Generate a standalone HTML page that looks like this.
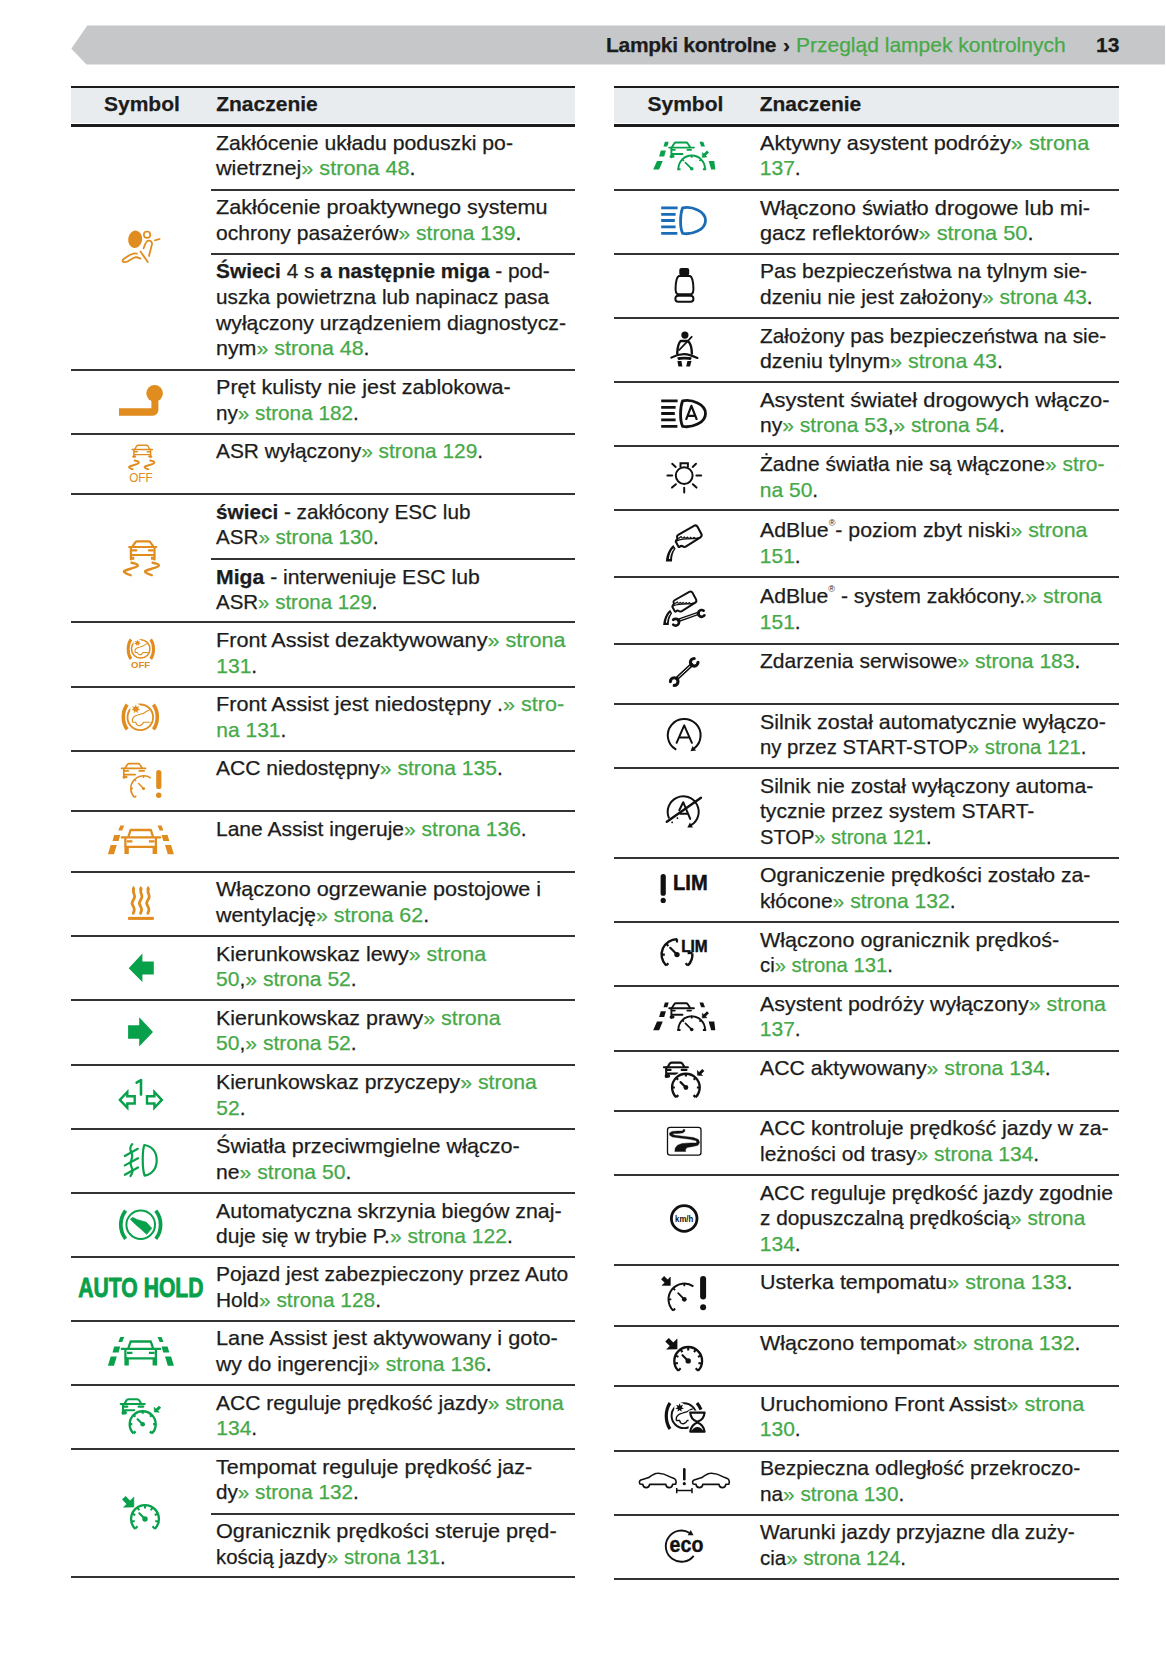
<!DOCTYPE html>
<html><head><meta charset="utf-8"><style>
html,body{margin:0;padding:0;background:#fff;}
body{width:1166px;height:1654px;position:relative;overflow:hidden;font-family:"Liberation Sans",sans-serif;}
.t{position:absolute;font-size:21px;line-height:25.65px;color:#1c1c1c;white-space:nowrap;-webkit-text-stroke:0.25px currentColor;}
.b{font-weight:bold;}
b{font-weight:bold;}
.g{color:#46a948;}
.hl{position:absolute;background:#1c1c1c;}
.hbg{position:absolute;background:#e9ecef;}
.ln{position:absolute;height:2px;background:#333;}
.ic{position:absolute;}
.sl{display:inline-block;transform-origin:0 50%;}
.ic svg{position:absolute;left:0;top:0;overflow:visible;}
sup{font-size:9px;line-height:0;vertical-align:baseline;position:relative;top:-11px;-webkit-text-stroke:0;}
</style></head><body>
<svg class="bar" width="1166" height="70" style="position:absolute;left:0;top:0"><polygon points="87.3,25.5 1165,25.5 1165,64.6 86.6,64.6 71.3,48.8" fill="#c6c7c9"/></svg>
<div class="t b" style="left:606px;top:31.7px;letter-spacing:-0.3px">Lampki kontrolne</div>
<div class="t b" style="left:783px;top:31.7px">›</div>
<div class="t g" style="left:796px;top:31.7px">Przegląd lampek kontrolnych</div>
<div class="t b" style="left:1096px;top:31.7px">13</div>
<div class="hl" style="left:70.5px;top:85.5px;width:504.5px;height:2px"></div>
<div class="hbg" style="left:70.5px;top:87.5px;width:504.5px;height:35px"></div>
<div class="hl" style="left:70.5px;top:124px;width:504.5px;height:2.5px"></div>
<div class="t b" style="left:104.0px;top:90.8px">Symbol</div>
<div class="t b" style="left:216.2px;top:90.8px">Znaczenie</div>
<div class="ln" style="left:70.5px;top:368.9px;width:504.5px"></div>
<div class="ic" style="left:70.5px;top:125.2px;width:140.5px;height:244.7px"></div>
<div class="t" style="left:216.3px;top:129.7px;line-height:25.65px"><span class="sl" style="transform:scaleX(1.0095)">Zakłócenie układu poduszki po-</span><br><span class="sl" style="transform:scaleX(1.0296)">wietrznej<span class="g">» strona 48</span>.</span></div>
<div class="ln" style="left:211.0px;top:188.7px;width:364.0px"></div>
<div class="t" style="left:216.3px;top:194.2px;line-height:25.65px"><span class="sl" style="transform:scaleX(1.0292)">Zakłócenie proaktywnego systemu</span><br><span class="sl" style="transform:scaleX(1.002)">ochrony pasażerów<span class="g">» strona 139</span>.</span></div>
<div class="ln" style="left:211.0px;top:252.7px;width:364.0px"></div>
<div class="t" style="left:216.3px;top:258.2px;line-height:25.65px"><span class="sl" style="transform:scaleX(0.9929)"><b>Świeci</b> 4 s <b>a następnie miga</b> - pod-</span><br><span class="sl" style="transform:scaleX(0.987)">uszka powietrzna lub napinacz pasa</span><br><span class="sl" style="transform:scaleX(1.0095)">wyłączony urządzeniem diagnostycz-</span><br><span class="sl" style="transform:scaleX(1.0195)">nym<span class="g">» strona 48</span>.</span></div>
<div class="ln" style="left:70.5px;top:432.9px;width:504.5px"></div>
<div class="ic" style="left:70.5px;top:369.9px;width:140.5px;height:64.0px"></div>
<div class="t" style="left:216.3px;top:374.4px;line-height:25.65px"><span class="sl" style="transform:scaleX(1.0265)">Pręt kulisty nie jest zablokowa-</span><br><span class="sl" style="transform:scaleX(0.9854)">ny<span class="g">» strona 182</span>.</span></div>
<div class="ln" style="left:70.5px;top:493.3px;width:504.5px"></div>
<div class="ic" style="left:70.5px;top:433.9px;width:140.5px;height:60.4px"></div>
<div class="t" style="left:216.3px;top:438.4px;line-height:25.65px"><span class="sl" style="transform:scaleX(0.9948)">ASR wyłączony<span class="g">» strona 129</span>.</span></div>
<div class="ln" style="left:70.5px;top:621.4px;width:504.5px"></div>
<div class="ic" style="left:70.5px;top:494.3px;width:140.5px;height:128.1px"></div>
<div class="t" style="left:216.3px;top:498.8px;line-height:25.65px"><span class="sl" style="transform:scaleX(0.9864)"><b>świeci</b> - zakłócony ESC lub</span><br><span class="sl" style="transform:scaleX(0.9812)">ASR<span class="g">» strona 130</span>.</span></div>
<div class="ln" style="left:211.0px;top:558.0px;width:364.0px"></div>
<div class="t" style="left:216.3px;top:563.5px;line-height:25.65px"><span class="sl" style="transform:scaleX(1.0092)"><b>Miga</b> - interweniuje ESC lub</span><br><span class="sl" style="transform:scaleX(0.9745)">ASR<span class="g">» strona 129</span>.</span></div>
<div class="ln" style="left:70.5px;top:685.7px;width:504.5px"></div>
<div class="ic" style="left:70.5px;top:622.4px;width:140.5px;height:64.3px"></div>
<div class="t" style="left:216.3px;top:626.9px;line-height:25.65px"><span class="sl" style="transform:scaleX(1.0291)">Front Assist dezaktywowany<span class="g">» strona</span></span><br><span class="sl" style="transform:scaleX(1.0)"><span class="g">131</span>.</span></div>
<div class="ln" style="left:70.5px;top:749.6px;width:504.5px"></div>
<div class="ic" style="left:70.5px;top:686.7px;width:140.5px;height:63.9px"></div>
<div class="t" style="left:216.3px;top:691.2px;line-height:25.65px"><span class="sl" style="transform:scaleX(1.0287)">Front Assist jest niedostępny .<span class="g">» stro-</span></span><br><span class="sl" style="transform:scaleX(1.0)"><span class="g">na 131</span>.</span></div>
<div class="ln" style="left:70.5px;top:810.0px;width:504.5px"></div>
<div class="ic" style="left:70.5px;top:750.6px;width:140.5px;height:60.4px"></div>
<div class="t" style="left:216.3px;top:755.1px;line-height:25.65px"><span class="sl" style="transform:scaleX(1.0025)">ACC niedostępny<span class="g">» strona 135</span>.</span></div>
<div class="ln" style="left:70.5px;top:870.8px;width:504.5px"></div>
<div class="ic" style="left:70.5px;top:811.0px;width:140.5px;height:60.8px"></div>
<div class="t" style="left:216.3px;top:815.5px;line-height:25.65px"><span class="sl" style="transform:scaleX(1.0003)">Lane Assist ingeruje<span class="g">» strona 136</span>.</span></div>
<div class="ln" style="left:70.5px;top:935.2px;width:504.5px"></div>
<div class="ic" style="left:70.5px;top:871.8px;width:140.5px;height:64.4px"></div>
<div class="t" style="left:216.3px;top:876.3px;line-height:25.65px"><span class="sl" style="transform:scaleX(1.0276)">Włączono ogrzewanie postojowe i</span><br><span class="sl" style="transform:scaleX(1.0197)">wentylację<span class="g">» strona 62</span>.</span></div>
<div class="ln" style="left:70.5px;top:999.2px;width:504.5px"></div>
<div class="ic" style="left:70.5px;top:936.2px;width:140.5px;height:64.0px"></div>
<div class="t" style="left:216.3px;top:940.7px;line-height:25.65px"><span class="sl" style="transform:scaleX(1.0193)">Kierunkowskaz lewy<span class="g">» strona</span></span><br><span class="sl" style="transform:scaleX(1.0043)"><span class="g">50</span>,<span class="g">» strona 52</span>.</span></div>
<div class="ln" style="left:70.5px;top:1063.8px;width:504.5px"></div>
<div class="ic" style="left:70.5px;top:1000.2px;width:140.5px;height:64.6px"></div>
<div class="t" style="left:216.3px;top:1004.7px;line-height:25.65px"><span class="sl" style="transform:scaleX(1.0201)">Kierunkowskaz prawy<span class="g">» strona</span></span><br><span class="sl" style="transform:scaleX(1.0043)"><span class="g">50</span>,<span class="g">» strona 52</span>.</span></div>
<div class="ln" style="left:70.5px;top:1127.9px;width:504.5px"></div>
<div class="ic" style="left:70.5px;top:1064.8px;width:140.5px;height:64.1px"></div>
<div class="t" style="left:216.3px;top:1069.3px;line-height:25.65px"><span class="sl" style="transform:scaleX(1.0107)">Kierunkowskaz przyczepy<span class="g">» strona</span></span><br><span class="sl" style="transform:scaleX(1.0)"><span class="g">52</span>.</span></div>
<div class="ln" style="left:70.5px;top:1192.0px;width:504.5px"></div>
<div class="ic" style="left:70.5px;top:1128.9px;width:140.5px;height:64.1px"></div>
<div class="t" style="left:216.3px;top:1133.4px;line-height:25.65px"><span class="sl" style="transform:scaleX(1.0288)">Światła przeciwmgielne włączo-</span><br><span class="sl" style="transform:scaleX(1.0083)">ne<span class="g">» strona 50</span>.</span></div>
<div class="ln" style="left:70.5px;top:1255.9px;width:504.5px"></div>
<div class="ic" style="left:70.5px;top:1193.0px;width:140.5px;height:63.9px"></div>
<div class="t" style="left:216.3px;top:1197.5px;line-height:25.65px"><span class="sl" style="transform:scaleX(1.0174)">Automatyczna skrzynia biegów znaj-</span><br><span class="sl" style="transform:scaleX(1.0024)">duje się w trybie P.<span class="g">» strona 122</span>.</span></div>
<div class="ln" style="left:70.5px;top:1319.7px;width:504.5px"></div>
<div class="ic" style="left:70.5px;top:1256.9px;width:140.5px;height:63.8px"></div>
<div class="t" style="left:216.3px;top:1261.4px;line-height:25.65px"><span class="sl" style="transform:scaleX(0.9989)">Pojazd jest zabezpieczony przez Auto</span><br><span class="sl" style="transform:scaleX(0.9951)">Hold<span class="g">» strona 128</span>.</span></div>
<div class="ln" style="left:70.5px;top:1384.0px;width:504.5px"></div>
<div class="ic" style="left:70.5px;top:1320.7px;width:140.5px;height:64.3px"></div>
<div class="t" style="left:216.3px;top:1325.2px;line-height:25.65px"><span class="sl" style="transform:scaleX(1.0346)">Lane Assist jest aktywowany i goto-</span><br><span class="sl" style="transform:scaleX(1.0092)">wy do ingerencji<span class="g">» strona 136</span>.</span></div>
<div class="ln" style="left:70.5px;top:1448.2px;width:504.5px"></div>
<div class="ic" style="left:70.5px;top:1385.0px;width:140.5px;height:64.2px"></div>
<div class="t" style="left:216.3px;top:1389.5px;line-height:25.65px"><span class="sl" style="transform:scaleX(1.0032)">ACC reguluje prędkość jazdy<span class="g">» strona</span></span><br><span class="sl" style="transform:scaleX(1.0)"><span class="g">134</span>.</span></div>
<div class="ln" style="left:70.5px;top:1576.3px;width:504.5px"></div>
<div class="ic" style="left:70.5px;top:1449.2px;width:140.5px;height:128.1px"></div>
<div class="t" style="left:216.3px;top:1453.7px;line-height:25.65px"><span class="sl" style="transform:scaleX(1.022)">Tempomat reguluje prędkość jaz-</span><br><span class="sl" style="transform:scaleX(0.9854)">dy<span class="g">» strona 132</span>.</span></div>
<div class="ln" style="left:211.0px;top:1512.7px;width:364.0px"></div>
<div class="t" style="left:216.3px;top:1518.2px;line-height:25.65px"><span class="sl" style="transform:scaleX(1.0312)">Ogranicznik prędkości steruje pręd-</span><br><span class="sl" style="transform:scaleX(0.9695)">kością jazdy<span class="g">» strona 131</span>.</span></div>
<div class="hl" style="left:614px;top:85.5px;width:504.5px;height:2px"></div>
<div class="hbg" style="left:614px;top:87.5px;width:504.5px;height:35px"></div>
<div class="hl" style="left:614px;top:124px;width:504.5px;height:2.5px"></div>
<div class="t b" style="left:647.5px;top:90.8px">Symbol</div>
<div class="t b" style="left:759.7px;top:90.8px">Znaczenie</div>
<div class="ln" style="left:614px;top:189.0px;width:504.5px"></div>
<div class="ic" style="left:614px;top:125.2px;width:140.5px;height:64.8px"></div>
<div class="t" style="left:759.8px;top:129.7px;line-height:25.65px"><span class="sl" style="transform:scaleX(1.0332)">Aktywny asystent podróży<span class="g">» strona</span></span><br><span class="sl" style="transform:scaleX(1.0)"><span class="g">137</span>.</span></div>
<div class="ln" style="left:614px;top:252.6px;width:504.5px"></div>
<div class="ic" style="left:614px;top:190.0px;width:140.5px;height:63.6px"></div>
<div class="t" style="left:759.8px;top:194.5px;line-height:25.65px"><span class="sl" style="transform:scaleX(1.0397)">Włączono światło drogowe lub mi-</span><br><span class="sl" style="transform:scaleX(1.0366)">gacz reflektorów<span class="g">» strona 50</span>.</span></div>
<div class="ln" style="left:614px;top:317.2px;width:504.5px"></div>
<div class="ic" style="left:614px;top:253.6px;width:140.5px;height:64.6px"></div>
<div class="t" style="left:759.8px;top:258.1px;line-height:25.65px"><span class="sl" style="transform:scaleX(1.0009)">Pas bezpieczeństwa na tylnym sie-</span><br><span class="sl" style="transform:scaleX(0.9961)">dzeniu nie jest założony<span class="g">» strona 43</span>.</span></div>
<div class="ln" style="left:614px;top:381.3px;width:504.5px"></div>
<div class="ic" style="left:614px;top:318.2px;width:140.5px;height:64.1px"></div>
<div class="t" style="left:759.8px;top:322.7px;line-height:25.65px"><span class="sl" style="transform:scaleX(0.992)">Założony pas bezpieczeństwa na sie-</span><br><span class="sl" style="transform:scaleX(1.0147)">dzeniu tylnym<span class="g">» strona 43</span>.</span></div>
<div class="ln" style="left:614px;top:445.4px;width:504.5px"></div>
<div class="ic" style="left:614px;top:382.3px;width:140.5px;height:64.1px"></div>
<div class="t" style="left:759.8px;top:386.8px;line-height:25.65px"><span class="sl" style="transform:scaleX(1.0437)">Asystent świateł drogowych włączo-</span><br><span class="sl" style="transform:scaleX(1.0029)">ny<span class="g">» strona 53</span>,<span class="g">» strona 54</span>.</span></div>
<div class="ln" style="left:614px;top:509.3px;width:504.5px"></div>
<div class="ic" style="left:614px;top:446.4px;width:140.5px;height:63.9px"></div>
<div class="t" style="left:759.8px;top:450.9px;line-height:25.65px"><span class="sl" style="transform:scaleX(1.0003)">Żadne światła nie są włączone<span class="g">» stro-</span></span><br><span class="sl" style="transform:scaleX(1.0)"><span class="g">na 50</span>.</span></div>
<div class="ln" style="left:614px;top:575.8px;width:504.5px"></div>
<div class="ic" style="left:614px;top:510.3px;width:140.5px;height:66.5px"></div>
<div class="t" style="left:759.8px;top:516.5px;line-height:26.1px"><span class="sl" style="transform:scaleX(1.0136)">AdBlue<sup>®</sup>- poziom zbyt niski<span class="g">» strona</span></span><br><span class="sl" style="transform:scaleX(1.0)"><span class="g">151</span>.</span></div>
<div class="ln" style="left:614px;top:642.8px;width:504.5px"></div>
<div class="ic" style="left:614px;top:576.8px;width:140.5px;height:67.0px"></div>
<div class="t" style="left:759.8px;top:583.0px;line-height:26.1px"><span class="sl" style="transform:scaleX(1.0085)">AdBlue<sup>®</sup> - system zakłócony.<span class="g">» strona</span></span><br><span class="sl" style="transform:scaleX(1.0)"><span class="g">151</span>.</span></div>
<div class="ln" style="left:614px;top:703.3px;width:504.5px"></div>
<div class="ic" style="left:614px;top:643.8px;width:140.5px;height:60.5px"></div>
<div class="t" style="left:759.8px;top:648.3px;line-height:25.65px"><span class="sl" style="transform:scaleX(1.0016)">Zdarzenia serwisowe<span class="g">» strona 183</span>.</span></div>
<div class="ln" style="left:614px;top:767.3px;width:504.5px"></div>
<div class="ic" style="left:614px;top:704.3px;width:140.5px;height:64.0px"></div>
<div class="t" style="left:759.8px;top:708.8px;line-height:25.65px"><span class="sl" style="transform:scaleX(1.0183)">Silnik został automatycznie wyłączo-</span><br><span class="sl" style="transform:scaleX(0.9679)">ny przez START-STOP<span class="g">» strona 121</span>.</span></div>
<div class="ln" style="left:614px;top:856.8px;width:504.5px"></div>
<div class="ic" style="left:614px;top:768.3px;width:140.5px;height:89.5px"></div>
<div class="t" style="left:759.8px;top:772.8px;line-height:25.65px"><span class="sl" style="transform:scaleX(1.0091)">Silnik nie został wyłączony automa-</span><br><span class="sl" style="transform:scaleX(1.0033)">tycznie przez system START-</span><br><span class="sl" style="transform:scaleX(0.9562)">STOP<span class="g">» strona 121</span>.</span></div>
<div class="ln" style="left:614px;top:921.2px;width:504.5px"></div>
<div class="ic" style="left:614px;top:857.8px;width:140.5px;height:64.4px"></div>
<div class="t" style="left:759.8px;top:862.3px;line-height:25.65px"><span class="sl" style="transform:scaleX(1.011)">Ograniczenie prędkości zostało za-</span><br><span class="sl" style="transform:scaleX(1.0031)">kłócone<span class="g">» strona 132</span>.</span></div>
<div class="ln" style="left:614px;top:985.3px;width:504.5px"></div>
<div class="ic" style="left:614px;top:922.2px;width:140.5px;height:64.1px"></div>
<div class="t" style="left:759.8px;top:926.7px;line-height:25.65px"><span class="sl" style="transform:scaleX(1.0254)">Włączono ogranicznik prędkoś-</span><br><span class="sl" style="transform:scaleX(0.9648)">ci<span class="g">» strona 131</span>.</span></div>
<div class="ln" style="left:614px;top:1049.9px;width:504.5px"></div>
<div class="ic" style="left:614px;top:986.3px;width:140.5px;height:64.6px"></div>
<div class="t" style="left:759.8px;top:990.8px;line-height:25.65px"><span class="sl" style="transform:scaleX(1.0185)">Asystent podróży wyłączony<span class="g">» strona</span></span><br><span class="sl" style="transform:scaleX(1.0)"><span class="g">137</span>.</span></div>
<div class="ln" style="left:614px;top:1109.9px;width:504.5px"></div>
<div class="ic" style="left:614px;top:1050.9px;width:140.5px;height:60.0px"></div>
<div class="t" style="left:759.8px;top:1055.4px;line-height:25.65px"><span class="sl" style="transform:scaleX(1.0122)">ACC aktywowany<span class="g">» strona 134</span>.</span></div>
<div class="ln" style="left:614px;top:1174.0px;width:504.5px"></div>
<div class="ic" style="left:614px;top:1110.9px;width:140.5px;height:64.1px"></div>
<div class="t" style="left:759.8px;top:1115.4px;line-height:25.65px"><span class="sl" style="transform:scaleX(1.0163)">ACC kontroluje prędkość jazdy w za-</span><br><span class="sl" style="transform:scaleX(1.0007)">leżności od trasy<span class="g">» strona 134</span>.</span></div>
<div class="ln" style="left:614px;top:1263.7px;width:504.5px"></div>
<div class="ic" style="left:614px;top:1175.0px;width:140.5px;height:89.7px"></div>
<div class="t" style="left:759.8px;top:1179.5px;line-height:25.65px"><span class="sl" style="transform:scaleX(1.0083)">ACC reguluje prędkość jazdy zgodnie</span><br><span class="sl" style="transform:scaleX(0.9915)">z dopuszczalną prędkością<span class="g">» strona</span></span><br><span class="sl" style="transform:scaleX(1.0)"><span class="g">134</span>.</span></div>
<div class="ln" style="left:614px;top:1324.7px;width:504.5px"></div>
<div class="ic" style="left:614px;top:1264.7px;width:140.5px;height:61.0px"></div>
<div class="t" style="left:759.8px;top:1269.2px;line-height:25.65px"><span class="sl" style="transform:scaleX(1.022)">Usterka tempomatu<span class="g">» strona 133</span>.</span></div>
<div class="ln" style="left:614px;top:1385.1px;width:504.5px"></div>
<div class="ic" style="left:614px;top:1325.7px;width:140.5px;height:60.4px"></div>
<div class="t" style="left:759.8px;top:1330.2px;line-height:25.65px"><span class="sl" style="transform:scaleX(1.0208)">Włączono tempomat<span class="g">» strona 132</span>.</span></div>
<div class="ln" style="left:614px;top:1449.5px;width:504.5px"></div>
<div class="ic" style="left:614px;top:1386.1px;width:140.5px;height:64.4px"></div>
<div class="t" style="left:759.8px;top:1390.6px;line-height:25.65px"><span class="sl" style="transform:scaleX(1.0253)">Uruchomiono Front Assist<span class="g">» strona</span></span><br><span class="sl" style="transform:scaleX(1.0)"><span class="g">130</span>.</span></div>
<div class="ln" style="left:614px;top:1513.6px;width:504.5px"></div>
<div class="ic" style="left:614px;top:1450.5px;width:140.5px;height:64.1px"></div>
<div class="t" style="left:759.8px;top:1455.0px;line-height:25.65px"><span class="sl" style="transform:scaleX(1.005)">Bezpieczna odległość przekroczo-</span><br><span class="sl" style="transform:scaleX(0.9882)">na<span class="g">» strona 130</span>.</span></div>
<div class="ln" style="left:614px;top:1577.6px;width:504.5px"></div>
<div class="ic" style="left:614px;top:1514.6px;width:140.5px;height:64.0px"></div>
<div class="t" style="left:759.8px;top:1519.1px;line-height:25.65px"><span class="sl" style="transform:scaleX(0.9937)">Warunki jazdy przyjazne dla zuży-</span><br><span class="sl" style="transform:scaleX(0.9771)">cia<span class="g">» strona 124</span>.</span></div>
<svg width="1166" height="1654" style="position:absolute;left:0;top:0"><g fill="none" stroke="#e08c1e" stroke-width="1.8" stroke-linecap="round" stroke-linejoin="round">
<ellipse cx="135.2" cy="239.3" rx="7.0" ry="8.7" transform="rotate(8 135.2 239.3)" fill="#e08c1e" stroke="none"/>
<circle cx="147.05" cy="234.7" r="3.2" stroke-width="1.7"/>
<path d="M154.9,240.3 L159.6,239.0"/>
<path d="M143.6,248.3 C144.8,244.5 146.5,240.8 148.6,240.7 C151.2,240.6 152.3,242.2 151.9,244.5 L149.0,256.0"/>
<path d="M140.5,251.5 L147.8,262.0"/>
<path d="M136.8,253.6 C133.5,252.5 127,256.5 124.0,258.8 C121.6,260.6 122.6,262.6 125.4,262.1 C129,261.5 132.8,257.6 135.0,257.3 C137,257.1 139,257.9 140.4,258.6"/>
</g>
<path d="M119,408.2 H151.4 V396 H158.4 V410 A5.7,5.7 0 0 1 152.7,415.7 H119 Z" fill="#e08c1e"/>
<circle cx="154.6" cy="393.3" r="8.3" fill="#e08c1e"/>
<g fill="none" stroke="#e08c1e" stroke-width="1.4" stroke-linecap="round" stroke-linejoin="round">
<path d="M134.9,449.2 L136.6,446.0 C137,445.4 137.6,445.2 138.4,445.2 H146.1 C146.9,445.2 147.5,445.4 147.9,446.0 L149.6,449.2"/>
<path d="M132.0,449.5 H152.4"/>
<path d="M133.9,449.5 V457.3 M150.6,449.5 V457.3 M133.9,454.6 H150.6"/>
<path d="M134.3,451.8 H137.3 M147.3,451.8 H150.3"/>
<path d="M133.2,456.5 H135.2 M149.3,456.5 H151.3" stroke-width="2.2"/>
<path d="M134.7,460.6 C136.8,461 138.6,461.8 138.8,462.6 C139,463.6 136,464.5 132.5,465.5 C130,466.2 128.8,466.8 129.1,467.4 C129.5,468.2 131,468.8 132.6,469.2" stroke-width="2"/>
<path d="M150.2,460.6 C152.3,461 154.1,461.8 154.3,462.6 C154.5,463.6 151.5,464.5 148.0,465.5 C145.5,466.2 144.3,466.8 144.6,467.4 C145,468.2 146.5,468.8 148.1,469.2" stroke-width="2"/>
</g>
<text x="140.9" y="481.6" font-family="Liberation Sans" font-size="13" fill="#e08c1e" text-anchor="middle" textLength="23.5" lengthAdjust="spacingAndGlyphs">OFF</text>
<g fill="none" stroke="#e08c1e" stroke-width="2.2" stroke-linecap="round" stroke-linejoin="round">
<path d="M132.6,546.2 L135.6,542.0 C136,541.5 136.6,541.3 137.4,541.3 H148.4 C149.2,541.3 149.8,541.5 150.2,542.0 L153.0,546.2"/>
<path d="M129.2,547.0 H156.2"/>
<path d="M130.9,547.4 V559.4 M154.5,547.4 V559.4 M130.9,555.0 H154.5"/>
<path d="M132.4,550.3 H136.3 M148.9,550.3 H152.8"/>
<path d="M130.3,558.2 H134.3 M151.0,558.2 H155.0" stroke-width="2.9" stroke-linecap="butt"/>
</g>
<g fill="none" stroke="#e08c1e" stroke-width="2.5" stroke-linecap="round" stroke-linejoin="round">
<path d="M131.6,562.7 C134.5,563.2 137.5,564.2 137.8,565.3 C138,566.5 134,567.7 129,569.2 C125.5,570.3 123.6,571 124.0,571.8 C124.6,573 127.8,574.3 130.6,575.1"/>
<path d="M152.7,562.7 C155.6,563.2 158.6,564.2 158.9,565.3 C159.1,566.5 155.1,567.7 150.1,569.2 C146.6,570.3 144.7,571 145.1,571.8 C145.7,573 148.9,574.3 151.7,575.1"/>
</g>
<g transform="translate(140.7,648.9) scale(0.72) translate(-140.3,-717.3)"><circle cx="140.3" cy="717.3" r="12.8" fill="none" stroke="#e08c1e" stroke-width="2.1"/><path d="M149.4,710.2 C147,710.4 145.5,712.2 143.5,713.2 C141,714.3 137,714.5 134.7,716.3 C132.8,717.8 131.9,720.5 132.6,722.3 H135.8 C136.3,724.5 138,725.6 139.6,725.6 C141.5,725.5 142.8,723.9 143.6,722.3 H150.4" fill="none" stroke="#e08c1e" stroke-width="1.4" stroke-linejoin="round"/><circle cx="135.8" cy="709.0" r="5.6" fill="#fff"/><polygon points="135.8,704.4 136.8,706.93 139.4,706.13 138.04,708.49 140.28,710.02 137.6,710.43 137.8,713.14 135.8,711.3 133.8,713.14 134,710.43 131.32,710.02 133.56,708.49 132.2,706.13 134.8,706.93" fill="#e08c1e"/></g>
<path d="M131.0,639.4 C127.2,644.5 127.2,653.8 131.0,659.0" fill="none" stroke="#e08c1e" stroke-width="3.0"/>
<path d="M150.7,639.4 C154.5,644.5 154.5,653.8 150.7,659.0" fill="none" stroke="#e08c1e" stroke-width="3.0"/>
<text x="140.6" y="668.2" font-family="Liberation Sans" font-weight="bold" font-size="9.6" fill="#e08c1e" text-anchor="middle" textLength="19" lengthAdjust="spacingAndGlyphs">OFF</text>
<circle cx="140.3" cy="717.3" r="12.8" fill="none" stroke="#e08c1e" stroke-width="1.8"/><path d="M149.4,710.2 C147,710.4 145.5,712.2 143.5,713.2 C141,714.3 137,714.5 134.7,716.3 C132.8,717.8 131.9,720.5 132.6,722.3 H135.8 C136.3,724.5 138,725.6 139.6,725.6 C141.5,725.5 142.8,723.9 143.6,722.3 H150.4" fill="none" stroke="#e08c1e" stroke-width="1.1" stroke-linejoin="round"/><circle cx="135.8" cy="709.0" r="5.6" fill="#fff"/><polygon points="135.8,704.4 136.8,706.93 139.4,706.13 138.04,708.49 140.28,710.02 137.6,710.43 137.8,713.14 135.8,711.3 133.8,713.14 134,710.43 131.32,710.02 133.56,708.49 132.2,706.13 134.8,706.93" fill="#e08c1e"/><path d="M127.2,704.6 C122.0,711.5 122.0,722.5 127.2,729.4" fill="none" stroke="#e08c1e" stroke-width="3.6"/>
<path d="M153.4,704.6 C158.6,711.5 158.6,722.5 153.4,729.4" fill="none" stroke="#e08c1e" stroke-width="3.6"/>
<g transform="translate(143.5,788.5)"><g fill="none" stroke="#e08c1e" stroke-width="1.7" stroke-linecap="round" stroke-linejoin="round">
<path d="M-18.2,-20.5 L-16.2,-23.9 C-15.8,-24.6 -15.2,-24.9 -14.3,-24.9 H-5.5 C-4.6,-24.9 -4.0,-24.6 -3.6,-23.9 L-1.4,-20.5"/>
<path d="M-22.0,-20.2 H2.0"/>
<path d="M-19.7,-20.0 V-10.6 M-19.7,-13.9 H-8.3"/>
<path d="M-19.2,-17.6 H-15.3 M-4.2,-17.6 H0.6"/>
<path d="M-19.6,-11.5 H-17.4" stroke-width="2.72"/>
</g><path d="M-8.98,8.98 A12.7,12.7 0 0 1 7.28,-10.4" stroke="#fff" stroke-width="4" fill="none"/><path d="M-8.98,8.98 A12.7,12.7 0 0 1 7.28,-10.4" stroke="#e08c1e" stroke-width="1.6" fill="none"/><path d="M-12.7,0 L-10.5,0 M-8.98,-8.98 L-7.42,-7.42 M-0,-12.7 L-0,-10.5" stroke="#e08c1e" stroke-width="1.4400000000000002" fill="none"/><path d="M0,0 L-4.94,-4.94" stroke="#e08c1e" stroke-width="1.4400000000000002" stroke-linecap="round"/><circle cx="0" cy="0" r="1.6" fill="#e08c1e"/><path d="M-8.98,8.98 L-7.28,7.28 M-8.98,8.98 L-7.28,7.28" stroke="#e08c1e" stroke-width="1.6" fill="none" stroke-linecap="butt"/></g>
<path d="M158.8,772.5 V786.5" stroke="#e08c1e" stroke-width="5.2" stroke-linecap="round"/><circle cx="158.7" cy="795.2" r="2.7" fill="#e08c1e"/>
<path d="M120.3,825.4 H124.2 L122.2,830.4 H118.3 Z M114.2,835.0 H120.2 L118.6,841.0 H112.5 Z M110.7,845.0 H116.8 L114.0,854.3 H107.9 Z" fill="#e08c1e"/>
<path d="M161.5,825.4 H157.6 L159.6,830.4 H163.5 Z M167.6,835.0 H161.6 L163.2,841.0 H169.3 Z M171.1,845.0 H165.0 L167.8,854.3 H173.9 Z" fill="#e08c1e"/>
<g fill="none" stroke="#e08c1e" stroke-width="2.3" stroke-linecap="butt" stroke-linejoin="round">
<path d="M128.4,836.6 L130.6,830.0 H150.8 L153.0,836.6"/>
<path d="M121.8,837.4 H160.2" stroke-linecap="round"/>
<path d="M125.4,837.4 V847 M155.9,837.4 V847 M125.4,846.9 H155.9"/>
<path d="M127.0,841.4 H132.4 M148.9,841.4 H154.6"/>
</g>
<path d="M124.4,846.5 H128.8 V854.1 H124.4 Z M152.6,846.5 H157.1 V854.1 H152.6 Z" fill="#e08c1e"/>
<g transform="translate(0,511.5)"><path d="M120.3,825.4 H124.2 L122.2,830.4 H118.3 Z M114.2,835.0 H120.2 L118.6,841.0 H112.5 Z M110.7,845.0 H116.8 L114.0,854.3 H107.9 Z" fill="#08a04b"/>
<path d="M161.5,825.4 H157.6 L159.6,830.4 H163.5 Z M167.6,835.0 H161.6 L163.2,841.0 H169.3 Z M171.1,845.0 H165.0 L167.8,854.3 H173.9 Z" fill="#08a04b"/>
<g fill="none" stroke="#08a04b" stroke-width="2.3" stroke-linecap="butt" stroke-linejoin="round">
<path d="M128.4,836.6 L130.6,830.0 H150.8 L153.0,836.6"/>
<path d="M121.8,837.4 H160.2" stroke-linecap="round"/>
<path d="M125.4,837.4 V847 M155.9,837.4 V847 M125.4,846.9 H155.9"/>
<path d="M127.0,841.4 H132.4 M148.9,841.4 H154.6"/>
</g>
<path d="M124.4,846.5 H128.8 V854.1 H124.4 Z M152.6,846.5 H157.1 V854.1 H152.6 Z" fill="#08a04b"/></g>
<path d="M133.4,888.5 C133.9,888 133.6,889.5 133.4,891 C133,893 135,894.5 134.6,897 C134.3,899.5 131.8,901 132.1,903.5 C132.4,906 134.6,907.5 134.3,910 C134.1,911.5 133.4,912.5 133.2,913.4 M140.7,888.5 C141.2,888 140.9,889.5 140.7,891 C140.3,893 142.3,894.5 141.9,897 C141.6,899.5 139.1,901 139.4,903.5 C139.7,906 141.9,907.5 141.6,910 C141.4,911.5 140.7,912.5 140.5,913.4 M148,888.5 C148.5,888 148.2,889.5 148,891 C147.6,893 149.6,894.5 149.2,897 C148.9,899.5 146.4,901 146.7,903.5 C147,906 149.2,907.5 148.9,910 C148.7,911.5 148,912.5 147.8,913.4" fill="none" stroke="#e08c1e" stroke-width="2.8" stroke-linecap="round"/>
<path d="M133.4,885.6 L135,889.6 L133.7,892.5 L132,889.8 Z" fill="#e08c1e"/><path d="M140.7,885.6 L142.3,889.6 L141,892.5 L139.3,889.8 Z" fill="#e08c1e"/><path d="M148,885.6 L149.6,889.6 L148.3,892.5 L146.6,889.8 Z" fill="#e08c1e"/>
<rect x="128.1" y="916.9" width="25.7" height="3.0" fill="#e08c1e"/>
<path d="M128.7,968.2 L142.4,953.6 V961.5 H153.8 V974.6 H142.4 V982.1 Z" fill="#08a04b"/>
<path d="M153.0,1032.0 L139.2,1017.2 V1025.2 H128.1 V1038.7 H139.2 V1046.6 Z" fill="#08a04b"/>
<path d="M119.9,1099.9 L127.3,1092.0 V1096.2 H134.7 V1103.5 H127.3 V1107.8 Z" fill="none" stroke="#08a04b" stroke-width="2.4" stroke-linejoin="miter"/>
<path d="M161.8,1099.9 L154.4,1092.0 V1096.2 H147.0 V1103.5 H154.4 V1107.8 Z" fill="none" stroke="#08a04b" stroke-width="2.4" stroke-linejoin="miter"/>
<path d="M136.6,1082.6 L141.0,1080.0 L141.0,1094.6" fill="none" stroke="#08a04b" stroke-width="2.6" stroke-linecap="round" stroke-linejoin="round"/>
<g fill="none" stroke="#08a04b" stroke-width="2.2" stroke-linecap="round" stroke-linejoin="round">
<path d="M144.3,1145.0 C142.3,1151 142.0,1168 144.6,1175.6 C152.5,1174.5 156.7,1168 156.7,1160.3 C156.7,1152 152,1146 144.3,1145.0 Z"/>
<path d="M132.3,1144.1 C129.8,1146 129.8,1150 131.6,1153 C133.5,1156 131,1160 130.6,1163 C130.4,1166 132.8,1168.5 132.5,1171.5 C132.3,1173.5 131.2,1175 130.5,1176"/>
<path d="M124.8,1156.0 L137.8,1148.8 M124.8,1165.4 L138.0,1158.2 M124.8,1174.8 L138.0,1167.5"/>
</g>
<circle cx="140.7" cy="1224.7" r="14.3" fill="none" stroke="#08a04b" stroke-width="2.0"/>
<path d="M125.6,1210.6 C119.2,1219 119.2,1230.5 125.6,1238.8" fill="none" stroke="#08a04b" stroke-width="3.7" stroke-linecap="butt"/>
<path d="M155.8,1210.6 C162.2,1219 162.2,1230.5 155.8,1238.8" fill="none" stroke="#08a04b" stroke-width="3.7" stroke-linecap="butt"/>
<path d="M130.4,1219.3 L132.6,1217.4 L137.3,1219.7 L146.3,1222.3 L151.7,1228.3 L146.7,1234.3 L141.6,1229.6 L135.6,1224.4 Z" fill="#08a04b" stroke="#08a04b" stroke-width="0.8" stroke-linejoin="round"/>
<text x="78.3" y="1297.4" font-family="Liberation Sans" font-weight="bold" font-size="27.5" fill="#08a04b" stroke="#08a04b" stroke-width="0.9" textLength="125.2" lengthAdjust="spacingAndGlyphs">AUTO HOLD</text>
<g transform="translate(142.7,1424.2)"><g fill="none" stroke="#08a04b" stroke-width="2.1" stroke-linecap="round" stroke-linejoin="round">
<path d="M-18.2,-20.5 L-16.2,-23.9 C-15.8,-24.6 -15.2,-24.9 -14.3,-24.9 H-5.5 C-4.6,-24.9 -4.0,-24.6 -3.6,-23.9 L-1.4,-20.5"/>
<path d="M-22.0,-20.2 H2.0"/>
<path d="M-19.7,-20.0 V-10.6 M-19.7,-13.9 H-8.3"/>
<path d="M-19.2,-17.6 H-15.3 M-4.2,-17.6 H0.6"/>
<path d="M-19.6,-11.5 H-17.4" stroke-width="3.3600000000000003"/>
</g><path d="M-9.19,9.19 A13,13 0 1 1 9.19,9.19" stroke="#fff" stroke-width="5" fill="none"/><path d="M-9.19,9.19 A13,13 0 1 1 9.19,9.19" stroke="#08a04b" stroke-width="2.4" fill="none"/><path d="M-13,0 L-10.4,0 M-9.19,-9.19 L-7.35,-7.35 M-0,-13 L-0,-10.4 M9.19,-9.19 L7.35,-7.35 M13,-0 L10.4,-0" stroke="#08a04b" stroke-width="2.16" fill="none"/><path d="M0,0 L-5.06,-5.06" stroke="#08a04b" stroke-width="2.16" stroke-linecap="round"/><circle cx="0" cy="0" r="2.3" fill="#08a04b"/><path d="M-9.19,9.19 L-7.21,7.21 M9.19,9.19 L7.21,7.21" stroke="#08a04b" stroke-width="2.4" fill="none" stroke-linecap="butt"/><path d="M17.4,-17.5 L13.6,-13.8" stroke="#08a04b" stroke-width="3.0" stroke-linecap="butt"/>
<path d="M11.7,-12.2 L11.4,-16.9 L16.6,-12.0 Z" fill="#08a04b" stroke="#08a04b" stroke-width="0.6" stroke-linejoin="round"/></g>
<g transform="translate(145,1519)"><path d="M-9.83,9.83 A13.9,13.9 0 1 1 9.83,9.83" stroke="#08a04b" stroke-width="2.3" fill="none"/><path d="M-9.91,9.74 L-7.49,7.36 M-13.63,2.71 L-10.3,2.05 M-12.84,-5.32 L-9.7,-4.02 M-7.72,-11.56 L-5.83,-8.73 M-0,-13.9 L-0,-10.5 M7.72,-11.56 L5.83,-8.73 M12.84,-5.32 L9.7,-4.02 M13.63,2.71 L10.3,2.05 M9.91,9.74 L7.49,7.36" stroke="#08a04b" stroke-width="2.07" fill="none"/><path d="M0,0 L-5.7,-5.7" stroke="#08a04b" stroke-width="2.07" stroke-linecap="round"/><circle cx="0" cy="0" r="2.7" fill="#08a04b"/><path d="M-21.2,-21.2 L-15.6,-15.6" stroke="#08a04b" stroke-width="5.0" stroke-linecap="butt"/><path d="M-11.1,-11.9 L-11.1,-22.0 L-21.6,-11.7 Z" fill="#08a04b" stroke="#08a04b" stroke-width="0.5" stroke-linejoin="round"/></g>
<path d="M664.9,141.7 H668.7 L667.3,146.5 H663.5 Z M660.8,150.6 H665.9 L664.2,156.4 H659.1 Z M657.0,160.9 H662.8 L659.1,169.5 H653.2 Z" fill="#08a04b"/>
<path d="M699.5,141.7 H703.2 L705.0,146.5 H701.2 Z M708.6,160.9 H714.3 L715.3,169.5 H711.2 Z" fill="#08a04b"/>
<g fill="none" stroke="#08a04b" stroke-width="1.9" stroke-linecap="round" stroke-linejoin="round">
<path d="M672.0,147.0 L674.2,143.5 C674.6,142.8 675.2,142.5 676.0,142.5 H686.0 C686.8,142.5 687.4,142.8 687.8,143.5 L690.0,147.0"/>
<path d="M669.2,147.6 H693.9"/>
<path d="M671.4,147.8 V157.2 M671.4,154.0 H682.5"/>
<path d="M671.8,149.9 H674.8 M687.4,149.9 H691.0"/>
<path d="M670.9,156.4 H673.2" stroke-width="2.6"/>
</g>
<path d="M678.4,168.8 A13.3,13.3 0 0 1 705,168.8" stroke="#fff" stroke-width="4.5" fill="none"/>
<path d="M678.4,168.8 A13.3,13.3 0 0 1 705,168.8" stroke="#08a04b" stroke-width="1.9" fill="none"/>
<path d="M677.2,169.3 H680.5 M702.9,169.3 H706.2" stroke="#08a04b" stroke-width="1.9"/>
<path d="M682.3,159.4 L683.92,161.02 M691.7,155.5 L691.7,157.8 M701.1,159.4 L699.48,161.02" stroke="#08a04b" stroke-width="1.7" fill="none"/>
<path d="M691.7,168.8 L685.4,162.6" stroke="#08a04b" stroke-width="1.7" stroke-linecap="round"/>
<circle cx="691.7" cy="168.8" r="1.8" fill="#08a04b"/>
<path d="M708.0,151.6 L704.4,155.0" stroke="#08a04b" stroke-width="2.8"/>
<path d="M702.2,157.4 L702.4,152.6 L707.0,157.0 Z" fill="#08a04b" stroke="#08a04b" stroke-width="0.5"/>
<g transform="translate(0,860.7)"><path d="M664.9,141.7 H668.7 L667.3,146.5 H663.5 Z M660.8,150.6 H665.9 L664.2,156.4 H659.1 Z M657.0,160.9 H662.8 L659.1,169.5 H653.2 Z" fill="#111111"/>
<path d="M699.5,141.7 H703.2 L705.0,146.5 H701.2 Z M708.6,160.9 H714.3 L715.3,169.5 H711.2 Z" fill="#111111"/>
<g fill="none" stroke="#111111" stroke-width="1.9" stroke-linecap="round" stroke-linejoin="round">
<path d="M672.0,147.0 L674.2,143.5 C674.6,142.8 675.2,142.5 676.0,142.5 H686.0 C686.8,142.5 687.4,142.8 687.8,143.5 L690.0,147.0"/>
<path d="M669.2,147.6 H693.9"/>
<path d="M671.4,147.8 V157.2 M671.4,154.0 H682.5"/>
<path d="M671.8,149.9 H674.8 M687.4,149.9 H691.0"/>
<path d="M670.9,156.4 H673.2" stroke-width="2.6"/>
</g>
<path d="M678.4,168.8 A13.3,13.3 0 0 1 705,168.8" stroke="#fff" stroke-width="4.5" fill="none"/>
<path d="M678.4,168.8 A13.3,13.3 0 0 1 705,168.8" stroke="#111111" stroke-width="1.9" fill="none"/>
<path d="M677.2,169.3 H680.5 M702.9,169.3 H706.2" stroke="#111111" stroke-width="1.9"/>
<path d="M682.3,159.4 L683.92,161.02 M691.7,155.5 L691.7,157.8 M701.1,159.4 L699.48,161.02" stroke="#111111" stroke-width="1.7" fill="none"/>
<path d="M691.7,168.8 L685.4,162.6" stroke="#111111" stroke-width="1.7" stroke-linecap="round"/>
<circle cx="691.7" cy="168.8" r="1.8" fill="#111111"/>
<path d="M708.0,151.6 L704.4,155.0" stroke="#111111" stroke-width="2.8"/>
<path d="M702.2,157.4 L702.4,152.6 L707.0,157.0 Z" fill="#111111" stroke="#111111" stroke-width="0.5"/></g>
<g stroke="#111111" stroke-width="2.8" fill="none">
<path d="M661.2,400.9 H677.6 M661.2,407.3 H675.6 M661.2,413.5 H674.8 M661.2,419.9 H675.6 M661.2,426.3 H677.4"/>
<path d="M682.6,400.8 C680.2,407 679.6,420 682.6,426.4 C692,428 705.5,423 705.5,413.4 C705.5,404 692,399 682.6,400.8 Z" stroke-linejoin="round"/>
</g><path d="M686.0,419.8 L691.4,405.8 L696.9,419.8 M687.6,415.9 H695.3" fill="none" stroke="#111111" stroke-width="2.2" stroke-linejoin="round"/>
<g transform="translate(0,-193)"><g stroke="#1b6cb6" stroke-width="2.8" fill="none">
<path d="M661.2,400.9 H677.6 M661.2,407.3 H675.6 M661.2,413.5 H674.8 M661.2,419.9 H675.6 M661.2,426.3 H677.4"/>
<path d="M682.6,400.8 C680.2,407 679.6,420 682.6,426.4 C692,428 705.5,423 705.5,413.4 C705.5,404 692,399 682.6,400.8 Z" stroke-linejoin="round"/>
</g></g>
<rect x="679.3" y="267.9" width="9.9" height="7.5" rx="2" fill="#111111"/>
<g fill="none" stroke="#111111" stroke-width="2" stroke-linejoin="round">
<path d="M679.0,276.0 C676.5,277 675.8,281 675.6,288 C675.4,291.5 675.8,293 677.5,294.2 H691.5 C693.2,293 693.6,291.5 693.4,288 C693.2,281 692.5,277 690.0,276.0 Z"/>
<rect x="675.4" y="295.8" width="18.0" height="5.9" rx="2.8"/>
</g>
<circle cx="684.9" cy="335.1" r="3.6" fill="#111111"/>
<g fill="none" stroke="#111111" stroke-linecap="round" stroke-linejoin="round">
<path d="M677.2,353.6 C677.4,348 677.6,344 680.6,341.0 H687.6 C690.2,342.5 691.7,347 691.9,353.6" stroke-width="2.4"/>
<path d="M679.2,350.0 L691.7,336.8" stroke-width="1.8"/>
<path d="M671.3,357.6 C676,355 680,354 684.5,354.1 C689,354.2 693,356 697.4,358.0" stroke-width="2.1"/>
<path d="M677.8,359.0 C679.5,357.9 689.5,357.9 691.2,359.0" stroke-width="2.8" stroke-linecap="butt"/>
</g>
<path d="M677.4,361.0 H681.4 L682.4,366.6 H678.4 Z M687.4,361.0 H691.5 L690.0,366.6 H686.2 Z" fill="#111111"/>
<g fill="none" stroke="#111111" stroke-width="2.0" stroke-linecap="round">
<circle cx="684.2" cy="475.6" r="8.4"/>
<path d="M680.5,467.5 V463.2 H687.9 V467.5" stroke-linecap="butt"/>
<path d="M667.4,475.4 H672.2 M696.4,475.4 H701.2 M684.2,487.8 V492.5 M672.2,463.8 L675.7,466.9 M696.0,463.8 L692.7,466.9 M675.9,484.2 L672.0,487.6 M692.8,484.2 L696.5,487.6"/>
</g>
<g fill="none" stroke="#111111" stroke-width="2.1" stroke-linejoin="round" stroke-linecap="round">
<path d="M677.8,538.5 C676.5,537 677.0,535.5 678.2,534.8 L694.0,525.8 C695.5,525 696.8,525.5 697.5,526.8 L701.4,534.0 C702.0,535.5 701.5,536.8 700.0,537.6 L686.5,546.2 C685,547.2 683.6,547.2 682.6,546.2 C681.5,545.4 680.5,546 679.8,546.8 C679.2,547.3 678.6,547 678.4,546.6 L675.8,541.8 C675.5,541 676,540.4 677.8,538.5 Z"/>
<path d="M676.8,540.8 C680,539.2 686,538.5 694,538.6 C696.5,538.6 698.5,538.7 700.0,537.6" stroke-width="1.4"/>
<path d="M679.0,538.2 C679.8,537.5 680.5,537 681.2,536.6 C681.8,538.2 683.5,538.6 684.2,536.9 C685,538.4 686.8,538.7 687.4,537.0 C688.3,538.5 690,538.7 690.7,537.2 C691.6,538.6 693.2,538.8 694.0,537.3 C694.8,538.6 696.5,538.8 697.5,537.8" stroke-width="1.2"/>
</g>
<path d="M673.4,545.0 L675.6,548.8 C672.8,552.5 672.0,556.5 672.0,561.4 H665.9 C666.3,555 668.8,549 673.4,545.0 Z M673.3,548.2 C670.4,551.5 669.2,555.5 668.9,559.0 H670.1 C670.4,555.5 671.4,551.6 673.9,549.0 Z" fill="#111111" fill-rule="evenodd"/>
<g transform="translate(674,601) scale(0.93) translate(-677.6,-535.6)"><g fill="none" stroke="#111111" stroke-width="2.1" stroke-linejoin="round" stroke-linecap="round">
<path d="M677.8,538.5 C676.5,537 677.0,535.5 678.2,534.8 L694.0,525.8 C695.5,525 696.8,525.5 697.5,526.8 L701.4,534.0 C702.0,535.5 701.5,536.8 700.0,537.6 L686.5,546.2 C685,547.2 683.6,547.2 682.6,546.2 C681.5,545.4 680.5,546 679.8,546.8 C679.2,547.3 678.6,547 678.4,546.6 L675.8,541.8 C675.5,541 676,540.4 677.8,538.5 Z"/>
<path d="M676.8,540.8 C680,539.2 686,538.5 694,538.6 C696.5,538.6 698.5,538.7 700.0,537.6" stroke-width="1.4"/>
<path d="M679.0,538.2 C679.8,537.5 680.5,537 681.2,536.6 C681.8,538.2 683.5,538.6 684.2,536.9 C685,538.4 686.8,538.7 687.4,537.0 C688.3,538.5 690,538.7 690.7,537.2 C691.6,538.6 693.2,538.8 694.0,537.3 C694.8,538.6 696.5,538.8 697.5,537.8" stroke-width="1.2"/>
</g>
<path d="M673.4,545.0 L675.6,548.8 C672.8,552.5 672.0,556.5 672.0,561.4 H665.9 C666.3,555 668.8,549 673.4,545.0 Z M673.3,548.2 C670.4,551.5 669.2,555.5 668.9,559.0 H670.1 C670.4,555.5 671.4,551.6 673.9,549.0 Z" fill="#111111" fill-rule="evenodd"/></g>
<path d="M678.8,620.2 L698.2,613.4" stroke="#111111" stroke-width="3.6" stroke-linecap="round"/>
<path d="M680.2,619.7 L696.8,613.9" stroke="#fff" stroke-width="0.9"/>
<path d="M673.2,619.8 A3.4,3.4 0 1 1 673.2,624.6" stroke="#111111" stroke-width="2.7" fill="none" stroke-linecap="round"/>
<path d="M704.39,615.35 A3.4,3.4 0 1 1 703.55,610.61" stroke="#111111" stroke-width="2.7" fill="none" stroke-linecap="round"/>
<path d="M677.0,678.4 L691.6,664.9" stroke="#111111" stroke-width="4.0" stroke-linecap="round"/>
<path d="M678.2,677.3 L690.4,666.0" stroke="#fff" stroke-width="1.0"/>
<path d="M670.4,681.6 A3.8,3.8 0 1 1 674.2,685.4" stroke="#111111" stroke-width="3.1" fill="none" stroke-linecap="round"/>
<path d="M698,662.3 A3.8,3.8 0 1 1 694.2,658.5" stroke="#111111" stroke-width="3.1" fill="none" stroke-linecap="round"/>
<path d="M675.51,749.21 A16.4,16.4 0 1 1 694.3,748.22" stroke="#111111" stroke-width="2.0" fill="none" stroke-linecap="round"/>
<path d="M690.51,751.18 L692.51,745.94 L696.08,750.51 Z" fill="#111111"/>
<path d="M676.6,742.8 L684.2,725.4 L691.9,742.8 M678.9,737.4 H689.5" fill="none" stroke="#111111" stroke-width="2.0" stroke-linecap="round" stroke-linejoin="round"/>
<path d="M668.83,817.61 A15.5,15.5 0 1 1 691.41,824.94" stroke="#111111" stroke-width="2.0" fill="none" stroke-linecap="round"/>
<path d="M687.34,827.49 L689.88,822.49 L692.95,827.4 Z" fill="#111111"/>
<path d="M679.3,810.3 L683.2,802.2 L690.2,818.9 M680.2,813.8 H687.4" fill="none" stroke="#111111" stroke-width="2.0" stroke-linecap="round" stroke-linejoin="round"/>
<path d="M666.8,821.8 L701.0,797.7" stroke="#111111" stroke-width="2.4" stroke-linecap="round"/>
<path d="M671.5,822.8 L672.8,822.0 M676.8,818.6 L678.0,817.6" stroke="#111111" stroke-width="1.6"/>
<path d="M663.2,876.5 V893.2" stroke="#111111" stroke-width="5.2" stroke-linecap="round"/>
<circle cx="663.2" cy="900.4" r="2.6" fill="#111111"/>
<text x="673.1" y="889.9" font-family="Liberation Sans" font-weight="bold" font-size="22" fill="#111111" stroke="#111111" stroke-width="0.5" textLength="34.6" lengthAdjust="spacingAndGlyphs">LIM</text>
<path d="M666.11,965.49 A15.4,15.4 0 0 1 677.27,939.2" stroke="#111111" stroke-width="2.4" fill="none"/><path d="M661.6,954.6 L664.8,954.6 M666.11,943.71 L668.37,945.97 M677,939.2 L677,942.4" stroke="#111111" stroke-width="2.16" fill="none"/><path d="M677,954.6 L670.25,947.85" stroke="#111111" stroke-width="2.16" stroke-linecap="round"/><circle cx="677" cy="954.6" r="2.7" fill="#111111"/><path d="M692.36,953.53 A15.4,15.4 0 0 1 687.89,965.49" stroke="#111111" stroke-width="2.4" fill="none"/><path d="M666.11,965.49 L668.37,963.23 M687.89,965.49 L685.63,963.23" stroke="#111111" stroke-width="2.4" fill="none" stroke-linecap="butt"/><path d="M687.6,953.0 H692.6" stroke="#111111" stroke-width="2.4"/><text x="681.2" y="951.6" font-family="Liberation Sans" font-weight="bold" font-size="16.3" fill="#111111" stroke="#111111" stroke-width="0.5" textLength="26.5" lengthAdjust="spacingAndGlyphs">LIM</text>
<g transform="translate(685.9,1087.5)"><g fill="none" stroke="#111111" stroke-width="2.1" stroke-linecap="round" stroke-linejoin="round">
<path d="M-18.2,-20.5 L-16.2,-23.9 C-15.8,-24.6 -15.2,-24.9 -14.3,-24.9 H-5.5 C-4.6,-24.9 -4.0,-24.6 -3.6,-23.9 L-1.4,-20.5"/>
<path d="M-22.0,-20.2 H2.0"/>
<path d="M-19.7,-20.0 V-10.6 M-19.7,-13.9 H-8.3"/>
<path d="M-19.2,-17.6 H-15.3 M-4.2,-17.6 H0.6"/>
<path d="M-19.6,-11.5 H-17.4" stroke-width="3.3600000000000003"/>
</g><path d="M-9.76,9.76 A13.8,13.8 0 1 1 9.76,9.76" stroke="#fff" stroke-width="5" fill="none"/><path d="M-9.76,9.76 A13.8,13.8 0 1 1 9.76,9.76" stroke="#111111" stroke-width="2.4" fill="none"/><path d="M-13.8,0 L-11,0 M-9.76,-9.76 L-7.78,-7.78 M-0,-13.8 L-0,-11 M9.76,-9.76 L7.78,-7.78 M13.8,-0 L11,-0" stroke="#111111" stroke-width="2.16" fill="none"/><path d="M0,0 L-5.37,-5.37" stroke="#111111" stroke-width="2.16" stroke-linecap="round"/><circle cx="0" cy="0" r="2.4" fill="#111111"/><path d="M-9.76,9.76 L-7.64,7.64 M9.76,9.76 L7.64,7.64" stroke="#111111" stroke-width="2.4" fill="none" stroke-linecap="butt"/><path d="M17.4,-17.5 L13.6,-13.8" stroke="#111111" stroke-width="3.0" stroke-linecap="butt"/>
<path d="M11.7,-12.2 L11.4,-16.9 L16.6,-12.0 Z" fill="#111111" stroke="#111111" stroke-width="0.6" stroke-linejoin="round"/></g>
<rect x="667.5" y="1127.4" width="33.5" height="27.7" rx="2.6" fill="none" stroke="#111111" stroke-width="1.3"/>
<polygon points="683.9,1129.0 682.3,1130.9 677,1131.1 672,1131.5 669.5,1133 669.6,1135.2 672.5,1137.0 680,1138.0 690,1139.3 695.5,1140.5 697.0,1142.0 696,1142.9 690,1142.9 682,1143.5 677.5,1145.2 675.2,1148 674.8,1151.5 685.8,1151.5 685.4,1149.8 687,1147.5 693,1146.5 698,1145.3 699.6,1142.5 698.5,1139.5 693.5,1137.5 683,1136.2 675,1135.2 672.6,1134.3 673.5,1133.4 678,1133.4 682.5,1133.0 684.8,1131.5 684.9,1129.8" fill="#111111" stroke="#111111" stroke-width="0.4" stroke-linejoin="round"/>
<circle cx="684.2" cy="1218.5" r="12.8" fill="none" stroke="#111111" stroke-width="2.8"/>
<text x="684.2" y="1222.0" font-family="Liberation Sans" font-weight="bold" font-size="9.5" fill="#111111" text-anchor="middle" textLength="18.2" lengthAdjust="spacingAndGlyphs">km/h</text>
<path d="M673.13,1310.47 A15.8,15.8 0 0 1 693.36,1286.36" stroke="#111111" stroke-width="2.0" fill="none"/><path d="M668.5,1299.3 L671.3,1299.3 M673.13,1288.13 L675.11,1290.11 M684.3,1283.5 L684.3,1286.3" stroke="#111111" stroke-width="1.8" fill="none"/><path d="M684.3,1299.3 L678.16,1293.16" stroke="#111111" stroke-width="1.8" stroke-linecap="round"/><circle cx="684.3" cy="1299.3" r="2.4" fill="#111111"/><path d="M673.13,1310.47 L675.11,1308.49 M673.13,1310.47 L675.11,1308.49" stroke="#111111" stroke-width="2.0" fill="none" stroke-linecap="butt"/><path d="M666.8,1281.8 L662.6,1277.6" stroke="#111111" stroke-width="4.4"/><path d="M670.4,1285.4 L670.4,1277.0 L662.0,1285.4 Z" fill="#111111" stroke="#111111" stroke-width="0.5" stroke-linejoin="round"/><path d="M703.1,1279.0 V1296.5" stroke="#111111" stroke-width="6" stroke-linecap="round"/><circle cx="703.1" cy="1307.3" r="3.0" fill="#111111"/>
<g transform="translate(688.2,1360.9)"><path d="M-9.83,9.83 A13.9,13.9 0 1 1 9.83,9.83" stroke="#111111" stroke-width="2.3" fill="none"/><path d="M-9.91,9.74 L-7.49,7.36 M-13.63,2.71 L-10.3,2.05 M-12.84,-5.32 L-9.7,-4.02 M-7.72,-11.56 L-5.83,-8.73 M-0,-13.9 L-0,-10.5 M7.72,-11.56 L5.83,-8.73 M12.84,-5.32 L9.7,-4.02 M13.63,2.71 L10.3,2.05 M9.91,9.74 L7.49,7.36" stroke="#111111" stroke-width="2.07" fill="none"/><path d="M0,0 L-5.7,-5.7" stroke="#111111" stroke-width="2.07" stroke-linecap="round"/><circle cx="0" cy="0" r="2.7" fill="#111111"/><path d="M-21.2,-21.2 L-15.6,-15.6" stroke="#111111" stroke-width="5.0" stroke-linecap="butt"/><path d="M-11.1,-11.9 L-11.1,-22.0 L-21.6,-11.7 Z" fill="#111111" stroke="#111111" stroke-width="0.5" stroke-linejoin="round"/></g>
<g transform="translate(684.0,1415.7) scale(0.97) translate(-140.3,-717.3)"><circle cx="140.3" cy="717.3" r="12.8" fill="none" stroke="#111111" stroke-width="2.0"/><path d="M149.4,710.2 C147,710.4 145.5,712.2 143.5,713.2 C141,714.3 137,714.5 134.7,716.3 C132.8,717.8 131.9,720.5 132.6,722.3 H135.8 C136.3,724.5 138,725.6 139.6,725.6 C141.5,725.5 142.8,723.9 143.6,722.3 H150.4" fill="none" stroke="#111111" stroke-width="1.4" stroke-linejoin="round"/><circle cx="135.8" cy="709.0" r="5.6" fill="#fff"/><polygon points="135.8,704.4 136.8,706.93 139.4,706.13 138.04,708.49 140.28,710.02 137.6,710.43 137.8,713.14 135.8,711.3 133.8,713.14 134,710.43 131.32,710.02 133.56,708.49 132.2,706.13 134.8,706.93" fill="#111111"/></g>
<path d="M670.0,1403.0 C665.0,1410.5 665.0,1421.5 670.0,1429.0" fill="none" stroke="#111111" stroke-width="3.2"/>
<path d="M697.0,1403.0 C698.8,1405.2 700.0,1407.2 701.0,1409.6" fill="none" stroke="#111111" stroke-width="3.2"/>
<rect x="688.6" y="1410.6" width="17.4" height="21.9" fill="#fff"/>
<g fill="none" stroke="#111111" stroke-width="2.1" stroke-linejoin="round">
<path d="M690.2,1412.6 H704.6 C704.2,1417.5 701.5,1420.5 697.4,1421.8 C693.3,1420.5 690.6,1417.5 690.2,1412.6 Z"/>
<path d="M697.4,1422.6 C701.5,1424 703.8,1427.5 704.6,1431.6 H690.2 C691,1427.5 693.3,1424 697.4,1422.6 Z"/>
</g>
<path d="M691.5,1431.0 C693,1428.2 695,1427.2 697.4,1427.0 C699.8,1427.2 701.8,1428.2 703.3,1431.0 Z" fill="#111111"/>
<path transform="translate(0,0)" d="M640.0,1484.0 C639.0,1482.5 639.3,1480.8 640.8,1480.0 C643.5,1479 646,1478.6 648.8,1477.6 C651.5,1475.5 654,1473.2 657.5,1473.2 C661.5,1473.0 665.5,1474.2 669.5,1476.6 C671.5,1477.8 674.5,1478.2 675.5,1479.6 C676.3,1481 676.2,1483 675.6,1484.3 H672.6 C672.4,1486.2 671,1487.6 669.2,1487.6 C667.4,1487.6 666.0,1486.2 665.8,1484.4 H649.6 C649.4,1486.2 648,1487.6 646.2,1487.6 C644.4,1487.6 643.0,1486.2 642.8,1484.4 Z" fill="none" stroke="#111111" stroke-width="1.6" stroke-linejoin="round"/><path transform="translate(53.2,0)" d="M640.0,1484.0 C639.0,1482.5 639.3,1480.8 640.8,1480.0 C643.5,1479 646,1478.6 648.8,1477.6 C651.5,1475.5 654,1473.2 657.5,1473.2 C661.5,1473.0 665.5,1474.2 669.5,1476.6 C671.5,1477.8 674.5,1478.2 675.5,1479.6 C676.3,1481 676.2,1483 675.6,1484.3 H672.6 C672.4,1486.2 671,1487.6 669.2,1487.6 C667.4,1487.6 666.0,1486.2 665.8,1484.4 H649.6 C649.4,1486.2 648,1487.6 646.2,1487.6 C644.4,1487.6 643.0,1486.2 642.8,1484.4 Z" fill="none" stroke="#111111" stroke-width="1.6" stroke-linejoin="round"/>
<path d="M684.3,1469.2 V1479.2" stroke="#111111" stroke-width="2.6" stroke-linecap="round"/>
<circle cx="684.3" cy="1483.7" r="1.6" fill="#111111"/>
<path d="M676.7,1490.6 H692.0 M676.7,1488.0 V1493.2 M692.0,1488.0 V1493.2" stroke="#111111" stroke-width="1.5" fill="none"/>
<path d="M693.69,1555.8 A15.6,15.6 0 1 1 689.67,1532.97" stroke="#111111" stroke-width="1.9" fill="none"/>
<path d="M693.53,1535.19 L687.7,1535.29 L690.7,1530.09 Z" fill="#111111"/>
<text x="669.6" y="1552.4" font-family="Liberation Sans" font-weight="bold" font-size="22.5" fill="#111111" stroke="#111111" stroke-width="0.4" textLength="33.8" lengthAdjust="spacingAndGlyphs">eco</text></svg>
</body></html>
